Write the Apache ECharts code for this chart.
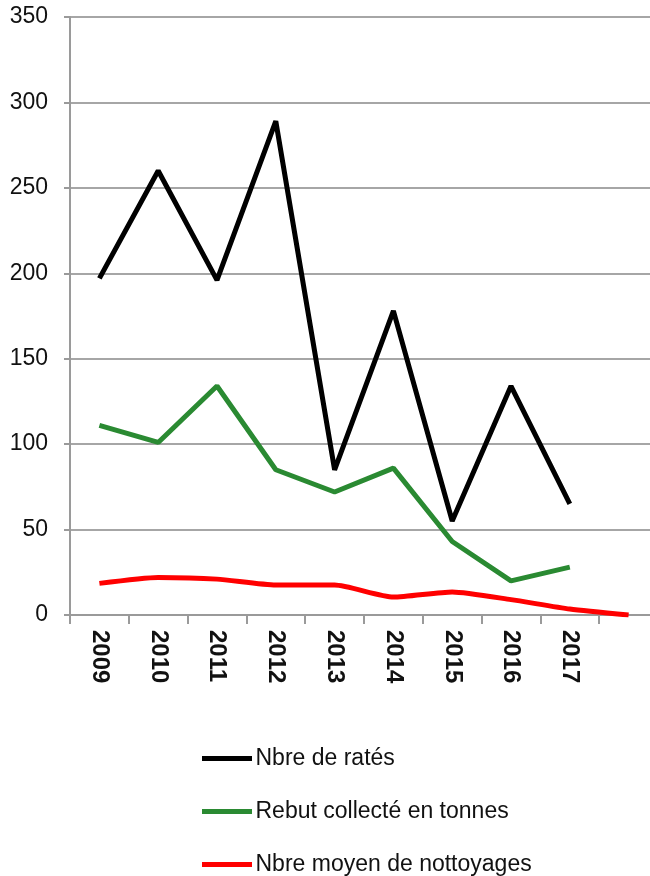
<!DOCTYPE html>
<html>
<head>
<meta charset="utf-8">
<script src="https://cdn.jsdelivr.net/npm/echarts@6/dist/echarts.min.js"></script>
<style>
  html, body { margin: 0; padding: 0; background: #fff; overflow: hidden; }
  /* la zone de tracé déborde à droite comme sur l'original */
  #chart { width: 660px; height: 876px; }
</style>
</head>
<body>
<div id="chart"></div>
<script>
// années (la dernière catégorie est vide, seule la courbe rouge y descend à 0)
const years = ['2009', '2010', '2011', '2012', '2013', '2014', '2015', '2016', '2017', ''];

const rates = [197, 260, 196, 289, 85, 178, 55, 134, 65, null];
const rebut = [111, 101, 134, 85, 72, 86, 43, 20, 28, null];
const nettoyages = [18.5, 22, 21, 17.5, 17.5, 10.5, 13.5, 9, 3.5, 0];

const seriesNames = ['Nbre de ratés', 'Rebut collecté en tonnes', 'Nbre moyen de nottoyages'];
const seriesColors = ['#000000', '#2a8a32', '#ff0000'];

const chart = echarts.init(document.getElementById('chart'));

const font = '"Liberation Sans", Arial, sans-serif';
const lineIcon = 'path://M0,0H100V10H0Z';

chart.setOption({
  backgroundColor: '#ffffff',
  animation: false,
  grid: { left: 70, right: 2, top: 17, bottom: 261, containLabel: false },
  xAxis: {
    type: 'category',
    data: years,
    boundaryGap: true,
    axisLine: { lineStyle: { color: '#9a9a9a', width: 2 } },
    axisTick: { show: true, length: 9, lineStyle: { color: '#9a9a9a', width: 2 } },
    axisLabel: {
      rotate: -90,
      margin: 15,
      color: '#111',
      fontFamily: font,
      fontSize: 24,
      fontWeight: 'bold',
    },
    splitLine: { show: false },
  },
  yAxis: {
    type: 'value',
    min: 0,
    max: 350,
    interval: 50,
    axisLine: { show: true, lineStyle: { color: '#9a9a9a', width: 2 } },
    axisTick: { show: true, length: 6, lineStyle: { color: '#9a9a9a', width: 2 } },
    axisLabel: { margin: 22, color: '#111', fontFamily: font, fontSize: 23 },
    splitLine: { lineStyle: { color: '#a6a6a6', width: 2 } },
  },
  legend: {
    orient: 'vertical',
    left: 197,
    top: 742,
    height: 134,
    itemWidth: 53,
    itemHeight: 5,
    itemGap: 30,
    icon: lineIcon,
    textStyle: { color: '#111', fontFamily: font, fontSize: 23, padding: [0, 0, 0, -3] },
    data: seriesNames,
  },
  series: [
    {
      name: seriesNames[0], type: 'line', data: rates,
      symbol: 'none', color: seriesColors[0],
      lineStyle: { width: 5, color: seriesColors[0] },
    },
    {
      name: seriesNames[1], type: 'line', data: rebut,
      symbol: 'none', color: seriesColors[1],
      lineStyle: { width: 5, color: seriesColors[1] },
    },
    {
      name: seriesNames[2], type: 'line', data: nettoyages,
      symbol: 'none', smooth: 0.2, color: seriesColors[2],
      lineStyle: { width: 5, color: seriesColors[2] },
    },
  ],
});
</script>
</body>
</html>
